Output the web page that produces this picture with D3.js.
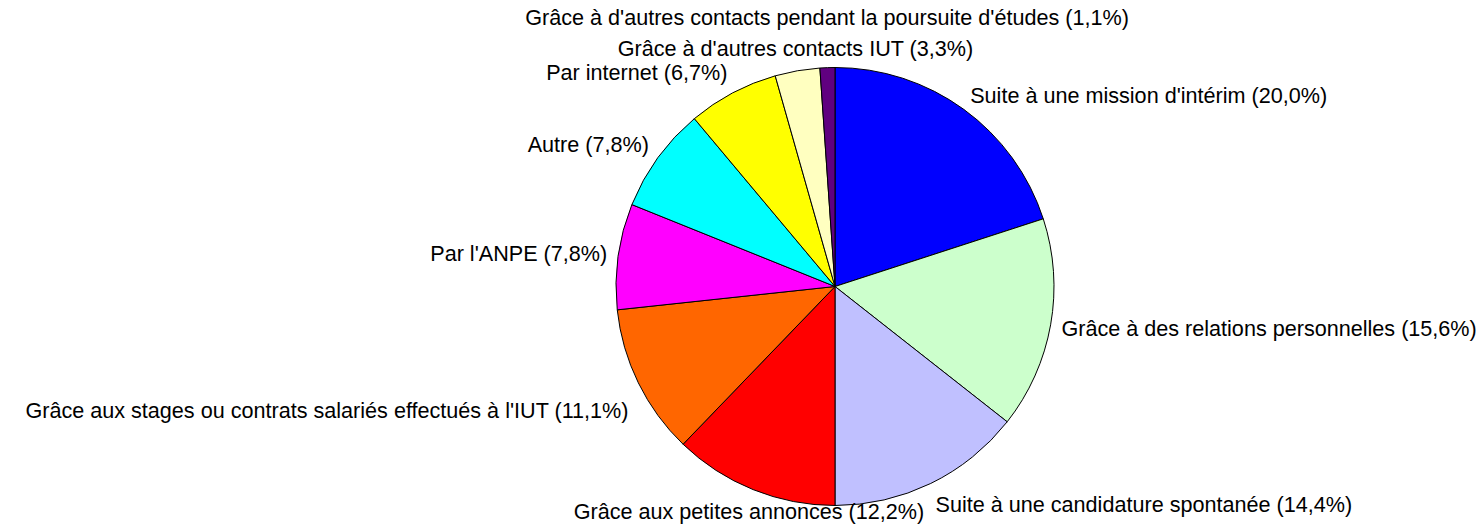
<!DOCTYPE html>
<html>
<head>
<meta charset="utf-8">
<script src="https://cdn.jsdelivr.net/npm/d3@7"></script>
<style>
  html, body { margin: 0; padding: 0; background: #ffffff; }
  svg { display: block; }
  text { font-family: "Liberation Sans", Arial, sans-serif; fill: #000; }
</style>
</head>
<body>
<svg id="chart" width="1483" height="524"></svg>
<script>
// ---- data ----
const categories = [
  "Suite à une mission d'intérim",
  "Grâce à des relations personnelles",
  "Suite à une candidature spontanée",
  "Grâce aux petites annonces",
  "Grâce aux stages ou contrats salariés effectués à l'IUT",
  "Par l'ANPE",
  "Autre",
  "Par internet",
  "Grâce à d'autres contacts IUT",
  "Grâce à d'autres contacts pendant la poursuite d'études"
];
const values = [20.0, 15.6, 14.4, 12.2, 11.1, 7.8, 7.8, 6.7, 3.3, 1.1];
const colors = ["#0000ff", "#ccffcc", "#c0c0ff", "#ff0000", "#ff6600",
                "#ff00ff", "#00ffff", "#ffff00", "#ffffc0", "#600080"];

// ---- layout ----
const W = 1483, H = 524;
const cx = 835, cy = 286.5, r = 219;
const labelR = r + 11;
const fontSize = 21.6;
// small vertical nudges for labels (Excel-like placement)
const labelNudge = { 0: 5, 4: 17, 9: -27 };

const svg = d3.select("#chart");
svg.append("rect").attr("width", W).attr("height", H).attr("fill", "#fff");

const fmt = v => "(" + v.toFixed(1).replace(".", ",") + "%)";

const pie = d3.pie().value(d => d).sort(null);
const arcs = pie(values);
const arc = d3.arc().innerRadius(0).outerRadius(r);

const g = svg.append("g").attr("transform", `translate(${cx},${cy})`);
g.selectAll("path")
  .data(arcs)
  .join("path")
  .attr("d", arc)
  .attr("fill", (d, i) => colors[i])
  .attr("stroke", "#000")
  .attr("stroke-width", 1)
  .attr("stroke-linejoin", "round");

const lab = svg.append("g");
arcs.forEach((d, i) => {
  const a = (d.startAngle + d.endAngle) / 2;
  const s = Math.sin(a), c = Math.cos(a);
  const px = cx + labelR * s, py = cy - labelR * c;
  const anchor = Math.abs(s) < 0.4 ? "middle" : (s > 0 ? "start" : "end");
  const y = py - c * 12 + (labelNudge[i] || 0);
  lab.append("text")
    .attr("x", px)
    .attr("y", y)
    .attr("dy", "0.35em")
    .attr("text-anchor", anchor)
    .attr("font-size", fontSize)
    .text(categories[i] + " " + fmt(values[i]));
});
</script>
</body>
</html>
